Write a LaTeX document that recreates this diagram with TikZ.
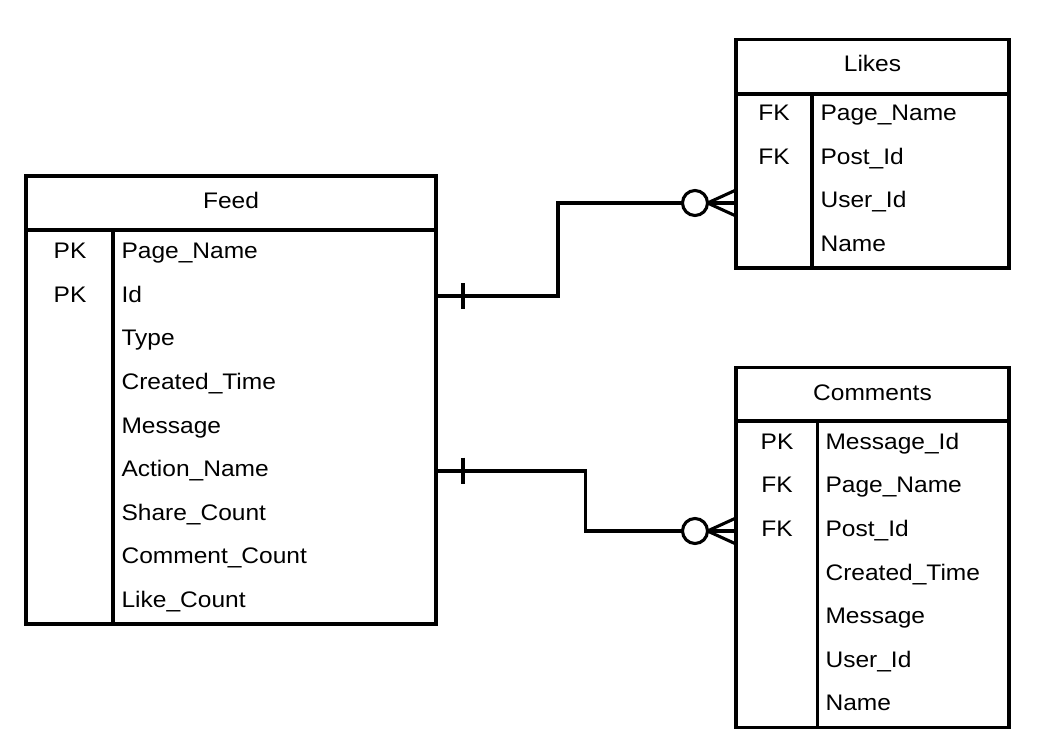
\documentclass[tikz,border=0pt]{standalone}
\usepackage{fontspec}
\setmainfont{Liberation Sans}[FakeStretch=1.09]
\begin{document}
\begin{tikzpicture}[x=1pt,y=-1pt,line width=3.1pt,
  tbl/.style={draw,rectangle,inner sep=0pt,outer sep=0pt},
  txt/.style={inner sep=0pt,font=\fontsize{22.5}{27}\selectfont},
  hdr/.style={txt,anchor=base},
  key/.style={txt,anchor=base},
  fld/.style={txt,anchor=base west},
  ring/.style={draw,circle,fill=white,inner sep=0pt,minimum size=25pt,outer sep=0pt},
  rel/.style={draw,line width=3.1pt}]
\useasboundingbox (0,0) rectangle (1037,749);
% ---------- Feed ----------
\node[tbl,minimum width=410pt,minimum height=448pt] (feed) at (231,400) {};
\draw (26,230) -- (436,230);
\draw (113,230) -- (113,624);
\node[hdr] (feedT) at (231,208.3) {Feed};
\foreach \t [count=\i] in {Page\_Name,Id,Type,Created\_Time,Message,Action\_Name,Share\_Count,Comment\_Count,Like\_Count}
  \node[fld] (feedf\i) at (120,{215.1+43.6*\i}) {\t};
\node[key] (feedk1) at (70,258.7) {PK};
\node[key] (feedk2) at (70,302.3) {PK};
% ---------- Likes ----------
\node[tbl,minimum width=273pt,minimum height=228.5pt] (likes) at (872.5,153.75) {};
\draw (736,94) -- (1009,94);
\draw (812,94) -- (812,268);
\node[hdr] (likesT) at (872.5,71.7) {Likes};
\foreach \t [count=\i] in {Page\_Name,Post\_Id,User\_Id,Name}
  \node[fld] (likesf\i) at (819,{77.1+43.6*\i}) {\t};
\node[key] (likesk1) at (774,120.7) {FK};
\node[key] (likesk2) at (774,164.3) {FK};
% ---------- Comments ----------
\node[tbl,minimum width=273pt,minimum height=360pt] (comm) at (872.5,547.5) {};
\draw (736,421) -- (1009,421);
\draw (817.5,421) -- (817.5,727.5);
\node[hdr] (commT) at (872.5,400) {Comments};
\foreach \t [count=\i] in {Message\_Id,Page\_Name,Post\_Id,Created\_Time,Message,User\_Id,Name}
  \node[fld] (commf\i) at (824,{405.7+43.6*\i}) {\t};
\node[key] (commk1) at (777,449.3) {PK};
\node[key] (commk2) at (777,492.9) {FK};
\node[key] (commk3) at (777,536.5) {FK};
% ---------- Relation Feed -> Likes ----------
\coordinate (a1) at (feed.east |- 0,296);
\node[ring] (r1) at (695,203) {};
\draw[rel] (a1) -- (558,296) |- (r1.west);
\draw[rel] (463,283) -- (463,309);
\draw[rel] (r1.east) -- (likes.west |- 0,190);
\draw[rel] (r1.east) -- (likes.west |- 0,203);
\draw[rel] (r1.east) -- (likes.west |- 0,216);
% ---------- Relation Feed -> Comments ----------
\coordinate (a2) at (feed.east |- 0,471);
\node[ring] (r2) at (695,531) {};
\draw[rel] (a2) -- (585.5,471) |- (r2.west);
\draw[rel] (463,457.5) -- (463,484);
\draw[rel] (r2.east) -- (comm.west |- 0,518);
\draw[rel] (r2.east) -- (comm.west |- 0,531);
\draw[rel] (r2.east) -- (comm.west |- 0,544);
\end{tikzpicture}
\end{document}
